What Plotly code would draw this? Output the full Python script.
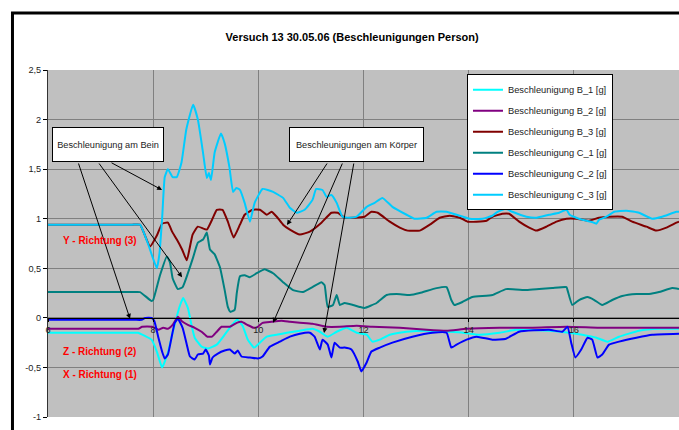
import plotly.graph_objects as go

# ---------------- data ----------------
b1_x = [6.0, 7.0, 7.6, 7.71, 7.97, 8.07, 8.17, 8.28, 8.37, 8.5, 8.57, 8.66, 8.74, 8.79, 8.92, 9.04, 9.21, 9.36, 9.5, 9.6, 9.7, 9.8, 9.92, 10.03, 10.16, 10.35, 10.54, 10.79, 11.03, 11.17, 11.32, 11.49, 11.68, 11.87, 12.06, 12.17, 12.31, 12.5, 12.82, 13.2, 13.58, 13.89, 14.2, 14.59, 14.9, 15.53, 15.91, 16.16, 16.43, 16.64, 16.86, 17.24, 17.62, 18.0]
b1_y = [-0.15, -0.15, -0.15, -0.15, -0.22, -0.34, -0.5, -0.35, -0.15, 0.11, 0.2, 0.1, -0.1, -0.2, -0.29, -0.31, -0.27, -0.17, -0.07, -0.02, -0.08, -0.22, -0.3, -0.25, -0.19, -0.17, -0.15, -0.13, -0.11, -0.14, -0.19, -0.14, -0.1, -0.15, -0.17, -0.24, -0.22, -0.17, -0.14, -0.13, -0.14, -0.15, -0.17, -0.15, -0.12, -0.13, -0.15, -0.17, -0.2, -0.24, -0.19, -0.13, -0.11, -0.11]

b2_x = [6.0, 7.0, 7.6, 7.72, 7.79, 7.98, 8.1, 8.19, 8.28, 8.37, 8.47, 8.56, 8.66, 8.79, 8.92, 9.03, 9.12, 9.21, 9.3, 9.46, 9.59, 9.68, 9.79, 9.91, 9.99, 10.08, 10.25, 10.44, 10.6, 10.79, 11.03, 11.3, 11.55, 11.87, 12.17, 12.69, 13.2, 13.58, 13.96, 14.59, 15.22, 15.86, 16.48, 17.2, 18.0]
b2_y = [-0.11, -0.11, -0.11, -0.11, -0.09, -0.09, -0.12, -0.1, -0.11, -0.07, 0.01, -0.04, -0.07, -0.1, -0.14, -0.19, -0.19, -0.14, -0.09, -0.09, -0.05, -0.04, -0.07, -0.1, -0.09, -0.05, -0.04, -0.03, -0.04, -0.05, -0.06, -0.09, -0.09, -0.08, -0.09, -0.1, -0.12, -0.13, -0.11, -0.1, -0.1, -0.09, -0.1, -0.1, -0.1]

b3_x = [6.0, 7.0, 7.6, 7.75, 7.94, 8.07, 8.17, 8.28, 8.36, 8.45, 8.55, 8.64, 8.75, 8.85, 9.02, 9.12, 9.21, 9.32, 9.42, 9.53, 9.65, 9.74, 9.89, 10.03, 10.16, 10.25, 10.35, 10.47, 10.6, 10.79, 10.98, 11.2, 11.39, 11.51, 11.64, 11.8, 12.02, 12.15, 12.27, 12.5, 12.69, 12.84, 13.07, 13.26, 13.45, 13.64, 13.83, 13.98, 14.15, 14.34, 14.45, 14.64, 14.77, 14.96, 15.15, 15.29, 15.48, 15.67, 15.86, 16.05, 16.29, 16.48, 16.67, 16.92, 17.11, 17.38, 17.57, 17.76, 17.95, 18.0]
b3_y = [0.94, 0.94, 0.94, 0.94, 0.72, 0.83, 0.95, 0.96, 0.87, 0.79, 0.69, 0.58, 0.84, 0.92, 0.89, 0.99, 1.09, 1.09, 0.97, 0.81, 0.94, 1.04, 1.09, 1.09, 1.04, 1.07, 1.02, 0.94, 0.89, 0.84, 0.87, 0.96, 1.06, 1.06, 1.01, 1.01, 1.02, 1.07, 1.06, 0.97, 0.91, 0.88, 0.88, 0.94, 1.01, 1.03, 1.01, 0.97, 0.97, 0.98, 1.02, 1.05, 1.05, 0.97, 0.91, 0.88, 0.92, 0.97, 1.0, 1.0, 0.98, 1.01, 1.02, 1.02, 0.97, 0.92, 0.88, 0.91, 0.96, 0.97]

c1_x = [6.0, 7.0, 7.6, 7.75, 7.97, 8.0, 8.13, 8.26, 8.32, 8.37, 8.47, 8.56, 8.66, 8.76, 8.85, 8.95, 9.02, 9.08, 9.17, 9.27, 9.36, 9.42, 9.47, 9.55, 9.59, 9.65, 9.74, 9.84, 9.97, 10.12, 10.28, 10.47, 10.66, 10.85, 11.03, 11.2, 11.26, 11.32, 11.42, 11.49, 11.55, 11.64, 11.8, 11.93, 12.02, 12.25, 12.44, 12.63, 12.88, 13.07, 13.39, 13.58, 13.67, 13.73, 13.88, 14.07, 14.45, 14.71, 15.1, 15.34, 15.59, 15.86, 15.88, 15.97, 16.1, 16.26, 16.39, 16.54, 16.73, 16.92, 17.19, 17.43, 17.62, 17.87, 18.0]
c1_y = [0.26, 0.26, 0.26, 0.26, 0.17, 0.18, 0.43, 0.62, 0.56, 0.4, 0.29, 0.31, 0.45, 0.61, 0.76, 0.79, 0.86, 0.69, 0.64, 0.51, 0.28, 0.11, 0.06, 0.08, 0.25, 0.42, 0.43, 0.41, 0.45, 0.49, 0.45, 0.36, 0.28, 0.26, 0.31, 0.36, 0.33, 0.11, 0.13, 0.23, 0.13, 0.15, 0.13, 0.11, 0.1, 0.15, 0.23, 0.24, 0.23, 0.25, 0.3, 0.31, 0.18, 0.13, 0.16, 0.21, 0.23, 0.29, 0.28, 0.29, 0.3, 0.31, 0.28, 0.13, 0.18, 0.21, 0.18, 0.13, 0.18, 0.22, 0.24, 0.24, 0.26, 0.3, 0.29]

c2_x = [6.0, 7.0, 7.65, 7.78, 7.85, 7.97, 8.02, 8.1, 8.17, 8.22, 8.28, 8.36, 8.41, 8.47, 8.56, 8.64, 8.7, 8.79, 8.85, 8.95, 9.0, 9.06, 9.08, 9.13, 9.23, 9.36, 9.46, 9.55, 9.61, 9.68, 9.84, 9.99, 10.08, 10.22, 10.41, 10.6, 10.79, 10.98, 11.07, 11.17, 11.22, 11.32, 11.39, 11.45, 11.55, 11.64, 11.77, 11.89, 11.96, 12.06, 12.15, 12.31, 12.55, 12.93, 13.31, 13.58, 13.67, 13.77, 13.96, 14.15, 14.45, 14.71, 14.96, 15.53, 15.78, 15.88, 15.95, 16.03, 16.14, 16.26, 16.35, 16.45, 16.54, 16.67, 16.86, 17.19, 17.49, 18.0]
c2_y = [-0.02, -0.02, -0.02, -0.02, 0.0, 0.0, -0.03, -0.2, -0.34, -0.41, -0.37, -0.17, -0.05, -0.01, -0.1, -0.27, -0.39, -0.42, -0.37, -0.36, -0.32, -0.38, -0.47, -0.4, -0.36, -0.33, -0.32, -0.36, -0.33, -0.39, -0.4, -0.41, -0.39, -0.29, -0.24, -0.19, -0.16, -0.15, -0.19, -0.32, -0.22, -0.27, -0.4, -0.25, -0.3, -0.3, -0.32, -0.44, -0.54, -0.45, -0.34, -0.3, -0.25, -0.19, -0.15, -0.15, -0.3, -0.27, -0.22, -0.19, -0.22, -0.21, -0.14, -0.12, -0.14, -0.09, -0.25, -0.4, -0.32, -0.2, -0.22, -0.4, -0.37, -0.27, -0.24, -0.2, -0.17, -0.16]

c3_x = [6.0, 7.0, 7.6, 7.75, 7.9, 8.07, 8.12, 8.17, 8.22, 8.28, 8.37, 8.45, 8.54, 8.63, 8.76, 8.85, 8.95, 9.02, 9.06, 9.1, 9.17, 9.29, 9.36, 9.45, 9.52, 9.58, 9.65, 9.74, 9.84, 9.93, 10.08, 10.28, 10.47, 10.6, 10.73, 10.88, 11.03, 11.1, 11.22, 11.3, 11.39, 11.49, 11.6, 11.74, 11.87, 12.06, 12.21, 12.36, 12.55, 12.82, 12.97, 13.2, 13.39, 13.58, 13.77, 14.02, 14.26, 14.45, 14.55, 14.71, 14.83, 15.1, 15.29, 15.53, 15.72, 15.86, 15.92, 16.0, 16.16, 16.33, 16.43, 16.48, 16.62, 16.77, 17.0, 17.24, 17.49, 17.68, 17.95, 18.0]
c3_y = [0.94, 0.94, 0.94, 0.94, 0.75, 0.5, 0.65, 1.0, 1.42, 1.5, 1.42, 1.42, 1.57, 1.9, 2.15, 2.0, 1.66, 1.41, 1.46, 1.39, 1.67, 1.86, 1.76, 1.52, 1.27, 1.31, 1.29, 1.16, 0.97, 1.16, 1.3, 1.27, 1.21, 1.11, 1.06, 1.09, 1.19, 1.3, 1.29, 1.22, 1.24, 1.16, 1.02, 1.01, 1.02, 1.12, 1.16, 1.21, 1.12, 1.04, 1.0, 1.01, 1.07, 1.07, 1.04, 1.0, 1.0, 1.03, 1.07, 1.1, 1.07, 1.02, 1.01, 1.04, 1.06, 1.09, 1.04, 1.02, 0.99, 0.97, 0.95, 0.99, 1.02, 1.07, 1.08, 1.06, 1.0, 1.02, 1.07, 1.07]

series_names = ["Beschleunigung B_1 [g]", "Beschleunigung B_2 [g]", "Beschleunigung B_3 [g]",
                "Beschleunigung C_1 [g]", "Beschleunigung C_2 [g]", "Beschleunigung C_3 [g]"]
series_colors = ["#00FFFF", "#800080", "#800000", "#008080", "#0000FF", "#00CCFF"]

x_tickvals = [6, 8, 10, 12, 14, 16, 18]
x_ticktext = ["6", "8", "10", "12", "14", "16", "18"]
y_tickvals = [-1, -0.5, 0, 0.5, 1, 1.5, 2, 2.5]
y_ticktext = ["-1", "-0,5", "0", "0,5", "1", "1,5", "2", "2,5"]

x_range = [6, 18]
y_range = [-1, 2.5]

title_text = "Versuch 13 30.05.06 (Beschleunigungen Person)"
FONT = "Liberation Sans, Arial, sans-serif"

fig = go.Figure()
all_x = [b1_x, b2_x, b3_x, c1_x, c2_x, c3_x]
all_y = [b1_y, b2_y, b3_y, c1_y, c2_y, c3_y]
for i, (xs, ys) in enumerate(zip(all_x, all_y)):
    fig.add_trace(go.Scatter(
        x=xs, y=ys, mode="lines", name=series_names[i],
        legendgroup=f"g{i}",
        line=dict(color=series_colors[i], width=2, shape="spline", smoothing=0.4),
    ))

# annotation boxes and arrows
annotations = []
annotations.append(dict(x=7.15, y=1.744, xref="x", yref="y", text="Beschleunigung am Bein",
                        showarrow=False, bgcolor="white", bordercolor="black", borderwidth=1,
                        borderpad=2, width=106, height=29,
                        font=dict(family=FONT, size=9.2, color="#222")))
annotations.append(dict(x=11.858, y=1.744, xref="x", yref="y", text="Beschleunigungen am Körper",
                        showarrow=False, bgcolor="white", bordercolor="black", borderwidth=1,
                        borderpad=2, width=129, height=29,
                        font=dict(family=FONT, size=9.2, color="#222")))
arrows = [
    ((7.56, -0.01), (6.571, 1.572)),
    ((8.55, 0.41), (6.951, 1.572)),
    ((8.17, 1.29), (7.18, 1.572)),
    ((10.545, 0.936), (11.325, 1.572)),
    ((10.28, -0.05), (11.61, 1.572)),
    ((11.25, -0.153), (11.82, 1.572)),
]
for (hx, hy), (tx, ty) in arrows:
    annotations.append(dict(x=hx, y=hy, xref="x", yref="y", ax=tx, ay=ty, axref="x", ayref="y",
                            text="", showarrow=True, arrowhead=2, arrowsize=1, arrowwidth=1,
                            arrowcolor="black", standoff=0))

for txt, yy in [("Y - Richtung (3)", 0.785), ("Z - Richtung (2)", -0.344), ("X - Richtung (1)", -0.576)]:
    annotations.append(dict(x=6.98, y=yy, xref="x", yref="y", text=f"<b>{txt}</b>", showarrow=False,
                            font=dict(family=FONT, size=10, color="#FF0000")))

fig.update_layout(
    width=679, height=430,
    margin=dict(l=48, r=0, t=70, b=13),
    paper_bgcolor="white", plot_bgcolor="#C0C0C0",
    font=dict(family=FONT, size=9.2, color="black"),
    title=dict(text=f"<b>{title_text}</b>", x=0.482, xref="paper", xanchor="center",
               y=1 - 37 / 430, yref="container", yanchor="middle",
               font=dict(family=FONT, size=11, color="black")),
    showlegend=True,
    legend=dict(x=0.664, y=0.988, xanchor="left", yanchor="top", bgcolor="white",
                bordercolor="black", borderwidth=1, font=dict(family=FONT, size=9.3, color="#222"),
                itemwidth=30, traceorder="grouped", tracegroupgap=2),
    annotations=annotations,
    shapes=[dict(type="rect", xref="paper", yref="paper", x0=-0.0563, x1=1.05, y0=-0.1, y1=1.1643,
                 line=dict(color="black", width=3), fillcolor="rgba(0,0,0,0)", layer="above")],
    separators=",.",
)
fig.update_xaxes(range=x_range, tickvals=x_tickvals, ticktext=x_ticktext,
                 showgrid=True, gridcolor="#808080", gridwidth=1, zeroline=False,
                 anchor="free", position=(0 - y_range[0]) / (y_range[1] - y_range[0]),
                 showline=True, linecolor="black", linewidth=1,
                 ticks="outside", ticklen=3, tickcolor="black",
                 tickfont=dict(family=FONT, size=9.2, color="#222"))
fig.update_yaxes(range=y_range, tickvals=y_tickvals, ticktext=y_ticktext, domain=[0, 1],
                 showgrid=True, gridcolor="#808080", gridwidth=1, zeroline=False,
                 showline=True, linecolor="#333", linewidth=1,
                 ticks="outside", ticklen=4, tickcolor="black",
                 tickfont=dict(family=FONT, size=9.2, color="#222"))

fig.write_html("out.html", config={"displayModeBar": False},
               post_script="document.body.style.margin='0px';document.body.style.overflow='hidden';")
